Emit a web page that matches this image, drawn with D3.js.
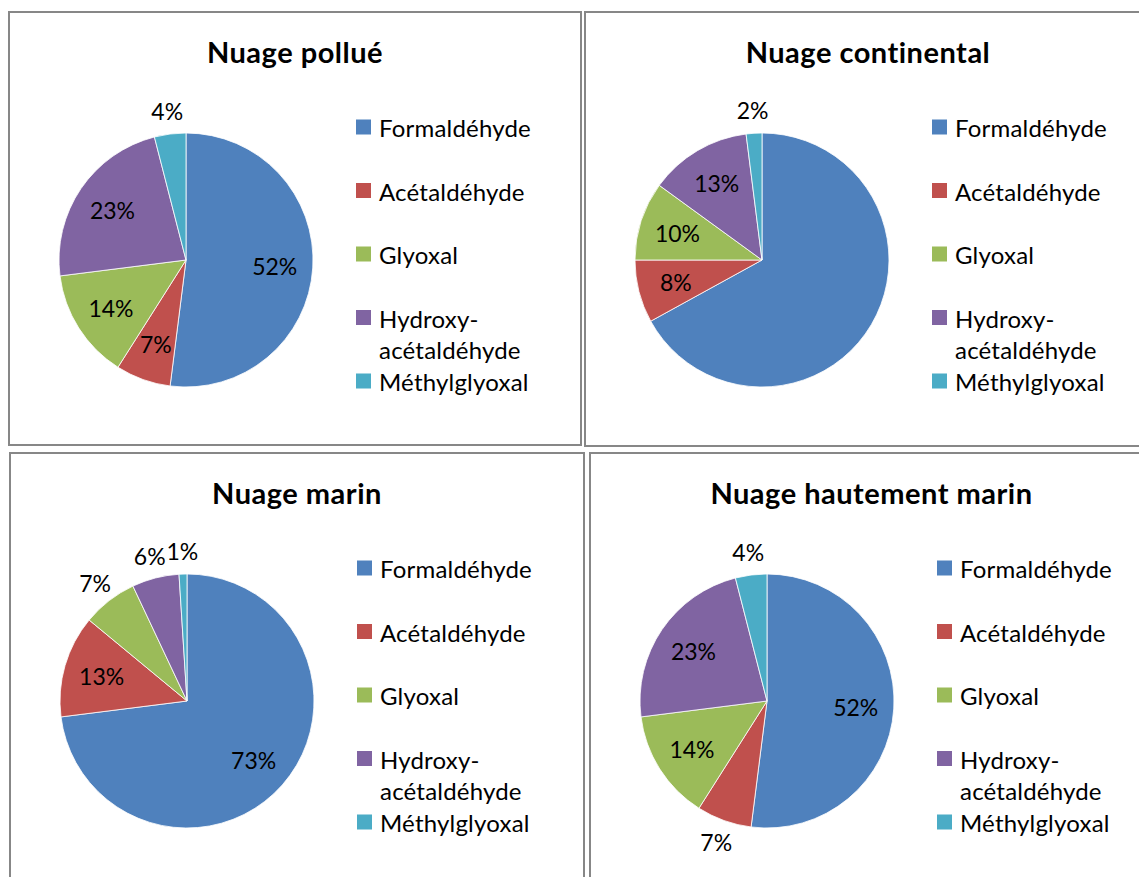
<!DOCTYPE html>
<html>
<head>
<meta charset="utf-8">
<script src="https://cdn.jsdelivr.net/npm/d3@7"></script>
<style>
  body { margin: 0; background: #fff; }
  svg text { font-family: Lato, "Open Sans", sans-serif; fill: #000; }
</style>
</head>
<body>
<svg id="chart" width="1139" height="877"></svg>
<script>
// categories (same for all four pies)
const categories = ["Formaldéhyde", "Acétaldéhyde", "Glyoxal", "Hydroxy-acétaldéhyde", "Méthylglyoxal"];
const titles = ["Nuage pollué", "Nuage continental", "Nuage marin", "Nuage hautement marin"];

// percentages per cloud type
const pollue = [52, 7, 14, 23, 4];
const continental = [67, 8, 10, 13, 2];
const marin = [73, 13, 7, 6, 1];
const hautementMarin = [52, 7, 14, 23, 4];

// which labels sit outside the pie, which are not shown
const outsideLabels = [[4], [4], [2, 3, 4], [1, 4]];
const hiddenLabels = [[], [0], [], []];

const colors = ["#4F81BD", "#C0504D", "#9BBB59", "#8064A2", "#4BACC6"];

const series = [pollue, continental, marin, hautementMarin];

// panel frames
const panels = [
    {x: 9, y: 12, w: 572, h: 433},
    {x: 585, y: 12, w: 566, h: 434},
    {x: 10, y: 453, w: 574, h: 445},
    {x: 590, y: 453, w: 563, h: 445}
];

const svg = d3.select("#chart");
const radius = 127;

let pie = d3.pie().sort(null).value(d => d);
let arc = d3.arc().innerRadius(0).outerRadius(radius);
let inArc = d3.arc().innerRadius(radius * 0.7).outerRadius(radius * 0.7);
let outArc = d3.arc().innerRadius(radius * 1.18).outerRadius(radius * 1.18);

let color = d3.scaleOrdinal().domain(categories).range(colors);

panels.forEach((p, i) => {
    let g = svg.append("g").attr("transform", "translate(" + p.x + "," + p.y + ")");

    g.append("rect")
        .attr("width", p.w).attr("height", p.h)
        .attr("fill", "#fff")
        .attr("stroke", "#878787")
        .attr("stroke-width", 2);

    g.append("text")
        .attr("x", p.w / 2).attr("y", 51)
        .attr("text-anchor", "middle")
        .style("font-size", "29px")
        .style("font-weight", "bold")
        .style("letter-spacing", "0.5px")
        .text(titles[i]);

    let arcs = pie(series[i]);
    let pieG = g.append("g").attr("transform", "translate(177,248)");

    pieG.selectAll("path")
        .data(arcs)
        .enter().append("path")
        .attr("d", arc)
        .attr("fill", (d, j) => color(categories[j]))
        .attr("stroke", "#fff")
        .attr("stroke-width", 0.8);

    pieG.selectAll("text")
        .data(arcs.filter((d, j) => hiddenLabels[i].indexOf(j) === -1))
        .enter().append("text")
        .attr("transform", d => {
            let c = outsideLabels[i].indexOf(d.index) !== -1 ? outArc.centroid(d) : inArc.centroid(d);
            return "translate(" + c + ")";
        })
        .attr("text-anchor", "middle")
        .attr("dominant-baseline", "central")
        .style("font-size", "23px")
        .text(d => d.value + "%");

    // legend
    let legend = g.append("g").attr("transform", "translate(347,115)");
    let rowY = 0;
    categories.forEach((c, j) => {
        let lines = c.indexOf("-") !== -1 ? [c.slice(0, c.indexOf("-") + 1), c.slice(c.indexOf("-") + 1)] : [c];
        legend.append("rect")
            .attr("x", 0).attr("y", rowY - 7.5)
            .attr("width", 15).attr("height", 15)
            .attr("fill", color(c));
        let t = legend.append("text")
            .attr("x", 23).attr("y", rowY)
            .attr("dominant-baseline", "central")
            .style("font-size", "24px")
            .style("letter-spacing", "0.2px");
        lines.forEach((l, k) => {
            t.append("tspan").attr("x", 23).attr("dy", k === 0 ? 0 : 31).text(l);
        });
        rowY += 63.5;
    });
});
</script>
</body>
</html>
